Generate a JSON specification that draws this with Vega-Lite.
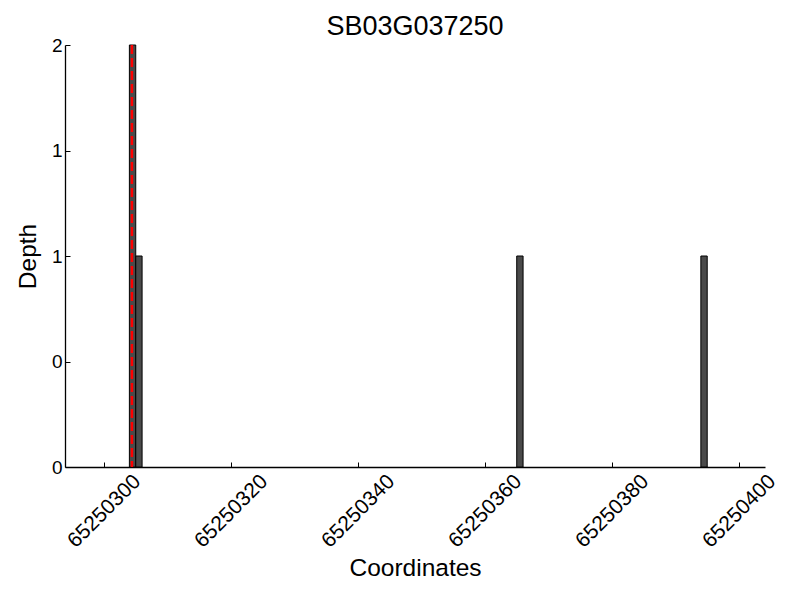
{
  "$schema": "https://vega.github.io/schema/vega-lite/v6.json",
  "autosize": "none",
  "width": 700,
  "height": 422,
  "padding": {"left": 65, "top": 45, "right": 35, "bottom": 133},
  "background": "white",
  "config": {
    "view": {"stroke": null},
    "font": "Liberation Sans",
    "axis": {"grid": false, "domainColor": "black", "tickColor": "black", "labelColor": "black", "titleColor": "black", "labelFont": "Liberation Sans", "titleFont": "Liberation Sans", "titleFontWeight": "normal", "labelFontSize": 19, "titleFontSize": 24.5, "domainWidth": 1.3, "tickWidth": 1}
  },
  "title": {"text": "SB03G037250", "fontSize": 27, "fontWeight": "normal", "font": "Liberation Sans", "color": "black", "offset": -5, "anchor": "middle"},
  "datasets": {
    "bars": [
      {"start": 65250304, "end": 65250305, "depth": 2},
      {"start": 65250305, "end": 65250306, "depth": 1},
      {"start": 65250365, "end": 65250366, "depth": 1},
      {"start": 65250394, "end": 65250395, "depth": 1}
    ],
    "marker": [{"pos": 65250304.4}]
  },
  "layer": [
    {
      "data": {"name": "bars"},
      "mark": {"type": "bar", "fill": "#4a4a4a", "stroke": "black", "strokeWidth": 1, "orient": "vertical"},
      "encoding": {
        "x": {"field": "start", "type": "quantitative", "scale": {"domain": [65250293.86, 65250404.1], "nice": false, "zero": false, "padding": 0},
          "axis": {"title": "Coordinates", "values": [65250300, 65250320, 65250340, 65250360, 65250380, 65250400], "format": "d", "labelAngle": -45, "labelAlign": "center", "labelBaseline": "middle", "labelFontSize": 21, "tickSize": -5, "labelPadding": 49, "titlePadding": 5}},
        "x2": {"field": "end"},
        "y": {"field": "depth", "type": "quantitative", "scale": {"domain": [0, 2], "nice": false, "padding": 0},
          "axis": {"title": "Depth", "values": [0, 0.5, 1, 1.5, 2], "labelExpr": "floor(datum.value)", "tickSize": -5, "labelPadding": 8, "titlePadding": 11}},
        "y2": {"datum": 0}
      }
    },
    {
      "data": {"name": "marker"},
      "mark": {"type": "rule", "color": "red", "strokeWidth": 2.5, "strokeDash": [9, 4]},
      "encoding": {"x": {"field": "pos", "type": "quantitative"}}
    }
  ]
}
